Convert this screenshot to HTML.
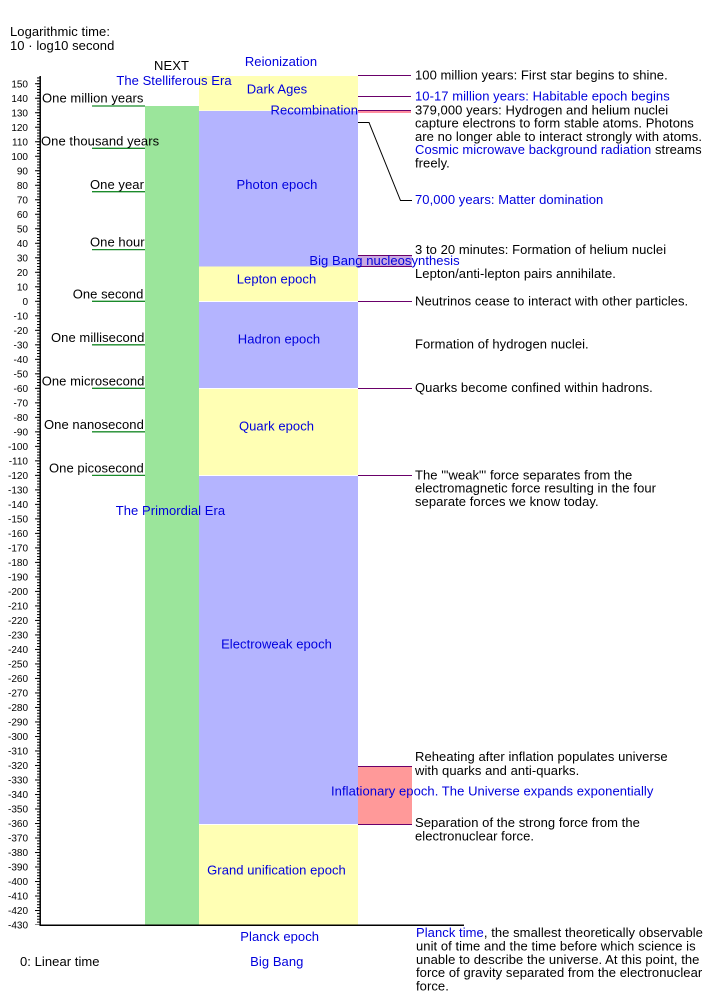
<!DOCTYPE html>
<html><head><meta charset="utf-8"><style>
html,body{margin:0;padding:0;background:#fff;}
svg{display:block;}
text{font-family:"Liberation Sans",Arial,sans-serif;}
.t{font-size:13px;fill:#000;letter-spacing:0.06px;}
.b{font-size:13px;fill:#0000dd;letter-spacing:0.06px;}
.k{font-size:10px;fill:#000;text-anchor:end;}
.m{text-anchor:middle;}
</style></head><body>
<svg width="720" height="1000" viewBox="0 0 720 1000" xmlns="http://www.w3.org/2000/svg">
<defs>
<pattern id="minor" patternUnits="userSpaceOnUse" x="0" y="300.8" width="10" height="2.901">
<rect x="0" y="0" width="10" height="1" fill="#000"/>
</pattern>
<pattern id="major" patternUnits="userSpaceOnUse" x="0" y="300.8" width="10" height="14.505">
<rect x="0" y="0" width="10" height="1" fill="#000"/>
</pattern>
</defs>
<rect width="720" height="1000" fill="#fff"/>

<!-- bars -->
<rect x="145" y="106" width="54" height="819" fill="#9be59b"/>
<rect x="199" y="76" width="159" height="34.5" fill="#ffffb4"/>
<rect x="199" y="111" width="159" height="155.5" fill="#b4b4ff"/>
<rect x="199" y="266.5" width="159" height="34.5" fill="#ffffb4"/>
<rect x="199" y="302" width="159" height="86" fill="#b4b4ff"/>
<rect x="199" y="389" width="159" height="86" fill="#ffffb4"/>
<rect x="199" y="476" width="159" height="348" fill="#b4b4ff"/>
<rect x="199" y="825" width="159" height="100" fill="#ffffb4"/>

<!-- special boxes -->
<rect x="358" y="111" width="53" height="2" fill="#ff8fa0"/>
<rect x="358" y="255.5" width="54" height="11" fill="#c9a8e0"/>
<rect x="358" y="766" width="54" height="58" fill="#ff9999"/>

<!-- purple annotation lines -->
<g stroke="#6a006a" stroke-width="1">
<line x1="358" y1="75.5" x2="411" y2="75.5"/>
<line x1="358" y1="96.5" x2="411" y2="96.5"/>
<line x1="358" y1="110.5" x2="411" y2="110.5"/>
<line x1="358" y1="255.5" x2="412" y2="255.5"/>
<line x1="358" y1="266.5" x2="412" y2="266.5"/>
<line x1="358" y1="301.5" x2="412" y2="301.5"/>
<line x1="358" y1="388.5" x2="412" y2="388.5"/>
<line x1="358" y1="475.5" x2="412" y2="475.5"/>
<line x1="358" y1="766.5" x2="412" y2="766.5"/>
<line x1="358" y1="824.5" x2="412" y2="824.5"/>
</g>
<polyline points="358,122.5 369,122.5 400.5,200.5 412,200.5" fill="none" stroke="#000" stroke-width="1"/>

<!-- green era lines -->
<g stroke="#1a8a2a" stroke-width="1.3">
<line x1="92" y1="106" x2="145" y2="106"/>
<line x1="92" y1="148.3" x2="145" y2="148.3"/>
<line x1="92" y1="191.7" x2="145" y2="191.7"/>
<line x1="92" y1="249.6" x2="145" y2="249.6"/>
<line x1="92" y1="301.3" x2="145" y2="301.3"/>
<line x1="92" y1="344.8" x2="145" y2="344.8"/>
<line x1="92" y1="388.3" x2="145" y2="388.3"/>
<line x1="92" y1="431.8" x2="145" y2="431.8"/>
<line x1="92" y1="475.4" x2="145" y2="475.4"/>
</g>

<!-- axis -->
<rect x="37" y="76" width="3" height="849" fill="url(#minor)"/>
<rect x="35" y="76" width="5" height="849" fill="url(#major)"/>
<line x1="40.2" y1="76" x2="40.2" y2="925.5" stroke="#000" stroke-width="1.5"/>
<line x1="39.5" y1="925.2" x2="464" y2="925.2" stroke="#000" stroke-width="1.5"/>

<!-- tick labels -->
<g class="k">
<text x="28" y="87.3">150</text>
<text x="28" y="101.8">140</text>
<text x="28" y="116.3">130</text>
<text x="28" y="130.8">120</text>
<text x="28" y="145.3">110</text>
<text x="28" y="159.9">100</text>
<text x="28" y="174.4">90</text>
<text x="28" y="188.9">80</text>
<text x="28" y="203.4">70</text>
<text x="28" y="217.9">60</text>
<text x="28" y="232.4">50</text>
<text x="28" y="246.9">40</text>
<text x="28" y="261.4">30</text>
<text x="28" y="275.9">20</text>
<text x="28" y="290.4">10</text>
<text x="28" y="304.9">0</text>
<text x="28" y="319.4">-10</text>
<text x="28" y="333.9">-20</text>
<text x="28" y="348.4">-30</text>
<text x="28" y="362.9">-40</text>
<text x="28" y="377.4">-50</text>
<text x="28" y="391.9">-60</text>
<text x="28" y="406.4">-70</text>
<text x="28" y="420.9">-80</text>
<text x="28" y="435.4">-90</text>
<text x="28" y="450.0">-100</text>
<text x="28" y="464.5">-110</text>
<text x="28" y="479.0">-120</text>
<text x="28" y="493.5">-130</text>
<text x="28" y="508.0">-140</text>
<text x="28" y="522.5">-150</text>
<text x="28" y="537.0">-160</text>
<text x="28" y="551.5">-170</text>
<text x="28" y="566.0">-180</text>
<text x="28" y="580.5">-190</text>
<text x="28" y="595.0">-200</text>
<text x="28" y="609.5">-210</text>
<text x="28" y="624.0">-220</text>
<text x="28" y="638.5">-230</text>
<text x="28" y="653.0">-240</text>
<text x="28" y="667.5">-250</text>
<text x="28" y="682.0">-260</text>
<text x="28" y="696.5">-270</text>
<text x="28" y="711.0">-280</text>
<text x="28" y="725.5">-290</text>
<text x="28" y="740.1">-300</text>
<text x="28" y="754.6">-310</text>
<text x="28" y="769.1">-320</text>
<text x="28" y="783.6">-330</text>
<text x="28" y="798.1">-340</text>
<text x="28" y="812.6">-350</text>
<text x="28" y="827.1">-360</text>
<text x="28" y="841.6">-370</text>
<text x="28" y="856.1">-380</text>
<text x="28" y="870.6">-390</text>
<text x="28" y="885.1">-400</text>
<text x="28" y="899.6">-410</text>
<text x="28" y="914.1">-420</text>
<text x="28" y="928.6">-430</text>
</g>

<!-- titles -->
<text class="t" x="10" y="36">Logarithmic time:</text>
<text class="t" x="10" y="50">10 · log10 second</text>
<text class="t" x="20" y="966">0: Linear time</text>

<!-- era column -->
<text class="t m" x="171.5" y="70">NEXT</text>
<text class="b m" x="174" y="85">The Stelliferous Era</text>
<text class="b m" x="170.5" y="515">The Primordial Era</text>

<!-- time unit labels -->
<text class="t" x="42" y="102.5">One million years</text>
<text class="t" x="41" y="145.5">One thousand years</text>
<text class="t" x="90" y="189">One year</text>
<text class="t" x="90" y="246.5">One hour</text>
<text class="t" x="72.7" y="298.5">One second</text>
<text class="t" x="51" y="341.8">One millisecond</text>
<text class="t" x="41.7" y="385.3">One microsecond</text>
<text class="t" x="44" y="428.8">One nanosecond</text>
<text class="t" x="49" y="472.4">One picosecond</text>

<!-- epoch labels -->
<text class="b m" x="281" y="66">Reionization</text>
<text class="b m" x="277" y="93.3">Dark Ages</text>
<text class="b" x="358" y="114.5" text-anchor="end">Recombination</text>
<text class="b m" x="277" y="189">Photon epoch</text>
<text class="b m" x="384.5" y="265">Big Bang nucleosynthesis</text>
<text class="b m" x="276.5" y="283.5">Lepton epoch</text>
<text class="b m" x="279" y="343.5">Hadron epoch</text>
<text class="b m" x="276.5" y="430.5">Quark epoch</text>
<text class="b m" x="276.5" y="648.5">Electroweak epoch</text>
<text class="b" x="331" y="795.5">Inflationary epoch. The Universe expands exponentially</text>
<text class="b m" x="276.5" y="874.5">Grand unification epoch</text>
<text class="b m" x="279.7" y="941">Planck epoch</text>
<text class="b m" x="276.8" y="966">Big Bang</text>

<!-- right annotations -->
<text class="t" x="415" y="79.3">100 million years: First star begins to shine.</text>
<text class="b" x="415" y="100.7">10-17 million years: Habitable epoch begins</text>
<text class="t" x="415" y="114.3">379,000 years: Hydrogen and helium nuclei</text>
<text class="t" x="415" y="127.6">capture electrons to form stable atoms. Photons</text>
<text class="t" x="415" y="140.9">are no longer able to interact strongly with atoms.</text>
<text class="t" x="415" y="154.2"><tspan fill="#0000dd">Cosmic microwave background radiation</tspan> streams</text>
<text class="t" x="415" y="167.5">freely.</text>
<text class="b" x="415" y="204">70,000 years: Matter domination</text>
<text class="t" x="415" y="254">3 to 20 minutes: Formation of helium nuclei</text>
<text class="t" x="415" y="278">Lepton/anti-lepton pairs annihilate.</text>
<text class="t" x="415" y="305.3">Neutrinos cease to interact with other particles.</text>
<text class="t" x="415" y="348.3">Formation of hydrogen nuclei.</text>
<text class="t" x="415" y="392">Quarks become confined within hadrons.</text>
<text class="t" x="415" y="479.3">The '"weak"' force separates from the</text>
<text class="t" x="415" y="492.6">electromagnetic force resulting in the four</text>
<text class="t" x="415" y="505.9">separate forces we know today.</text>
<text class="t" x="415" y="761.2">Reheating after inflation populates universe</text>
<text class="t" x="415" y="775">with quarks and anti-quarks.</text>
<text class="t" x="415" y="827.2">Separation of the strong force from the</text>
<text class="t" x="415" y="840.5">electronuclear force.</text>
<text class="t" x="416" y="937.2"><tspan fill="#0000dd">Planck time</tspan>, the smallest theoretically observable</text>
<text class="t" x="416" y="950.5">unit of time and the time before which science is</text>
<text class="t" x="416" y="963.8">unable to describe the universe. At this point, the</text>
<text class="t" x="416" y="977.1">force of gravity separated from the electronuclear</text>
<text class="t" x="416" y="990.4">force.</text>
</svg>
</body></html>
